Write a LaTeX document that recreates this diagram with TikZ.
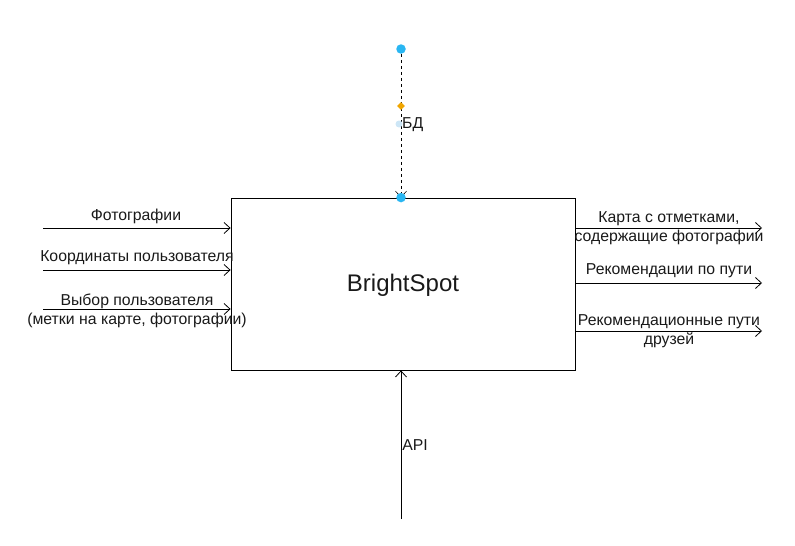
\documentclass[tikz,border=0pt]{standalone}
\usepackage{fontspec}
\setmainfont{Liberation Sans}
\usepackage{xcolor}
\usetikzlibrary{arrows.meta,shapes.geometric}
\definecolor{dotblue}{RGB}{41,182,242}
\definecolor{dotorange}{RGB}{240,165,0}
\definecolor{paleblue}{RGB}{205,230,246}
\definecolor{inkgrey}{RGB}{25,25,25}

\begin{document}
\begin{tikzpicture}[x=1pt, y=-1pt,
    font=\fontsize{15.8}{19.5}\selectfont, text=inkgrey,
    flow/.style={draw=black, line width=0.8pt,
      -{Straight Barb[length=6pt, width=11pt]}},
    lbl/.style={align=center, inner sep=0pt}]
  \useasboundingbox (0,0) rectangle (795,546);

  % main block
  \node[draw, line width=0.8pt, minimum width=344pt, minimum height=172pt,
    inner sep=0pt] (box) at (403,284) {};
  \node[font=\fontsize{24}{28}\selectfont] (title) at (403,285) {BrightSpot};

  % inputs on the left
  \coordinate (in1) at (43,228);
  \coordinate (in2) at (43,270);
  \coordinate (in3) at (43,309);
  \draw[flow] (in1) -- (box.west |- in1);
  \draw[flow] (in2) -- (box.west |- in2);
  \draw[flow] (in3) -- (box.west |- in3);
  \node[lbl] (inlabel1) at (136,216) {Фотографии};
  \node[lbl] (inlabel2) at (137,258) {Координаты пользователя};
  \node[lbl] (inlabel3) at (137,311)
    {Выбор пользователя\\(метки на карте, фотографии)};

  % outputs on the right
  \coordinate (out1) at (762,228);
  \coordinate (out2) at (762,283);
  \coordinate (out3) at (762,331);
  \draw[flow] (box.east |- out1) -- (out1);
  \draw[flow] (box.east |- out2) -- (out2);
  \draw[flow] (box.east |- out3) -- (out3);
  \node[lbl] (outlabel1) at (669,228)
    {Карта с отметками,\\содержащие фотографии};
  \node[lbl] (outlabel2) at (669,271) {Рекомендации по пути};
  \node[lbl] (outlabel3) at (669,331) {Рекомендационные пути\\друзей};

  % control from above (dashed)
  \node[circle, fill=dotblue, inner sep=0pt, minimum size=9.5pt] (dbsrc) at (401,49) {};
  \coordinate (dbend) at (box.north -| dbsrc);
  \draw[flow, line width=0.6pt, dashed] (dbsrc) -- (dbend);
  \node[diamond, fill=dotorange, inner sep=0pt, minimum size=8pt] (dbmid) at (401,106) {};
  \node[circle, fill=paleblue, inner sep=0pt, minimum size=7pt] (dbmark) at (399,124) {};
  \node[lbl, anchor=west] (dblabel) at (402,125) {БД};
  \node[circle, fill=dotblue, inner sep=0pt, minimum size=9.5pt] (dbdot) at (dbend) {};

  % mechanism from below
  \coordinate (api) at (401,519);
  \draw[flow] (api) -- (box.south -| api);
  \node[lbl] (apilabel) at (415,445) {API};
\end{tikzpicture}
\end{document}
